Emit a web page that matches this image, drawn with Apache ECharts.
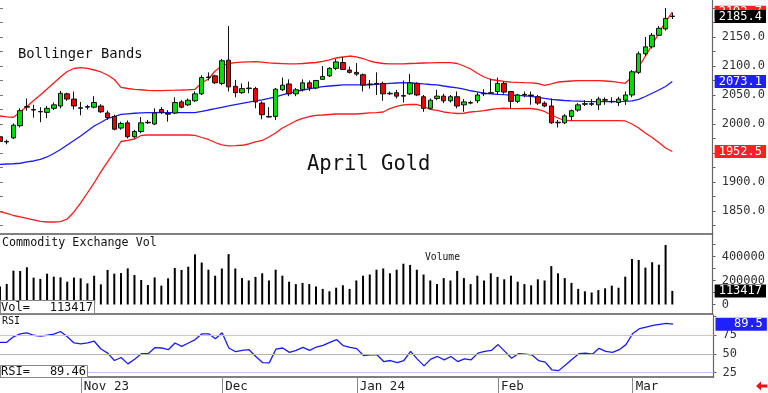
<!DOCTYPE html>
<html><head><meta charset="utf-8">
<script src="https://cdn.jsdelivr.net/npm/echarts@6/dist/echarts.min.js"></script>
<style>html,body{margin:0;padding:0;background:#fff}#c{width:768px;height:393px}</style>
</head><body><div id="c"></div>
<script>
const dates = [
'2023-10-16','2023-10-17','2023-10-18','2023-10-19','2023-10-20','2023-10-23','2023-10-24','2023-10-25','2023-10-26','2023-10-27','2023-10-30','2023-10-31',
'2023-11-01','2023-11-02','2023-11-03','2023-11-06','2023-11-07','2023-11-08','2023-11-09','2023-11-10','2023-11-13','2023-11-14','2023-11-15','2023-11-16','2023-11-17','2023-11-20','2023-11-21','2023-11-22','2023-11-24','2023-11-27','2023-11-28','2023-11-29','2023-11-30',
'2023-12-01','2023-12-04','2023-12-05','2023-12-06','2023-12-07','2023-12-08','2023-12-11','2023-12-12','2023-12-13','2023-12-14','2023-12-15','2023-12-18','2023-12-19','2023-12-20','2023-12-21','2023-12-22','2023-12-26','2023-12-27','2023-12-28','2023-12-29',
'2024-01-02','2024-01-03','2024-01-04','2024-01-05','2024-01-08','2024-01-09','2024-01-10','2024-01-11','2024-01-12','2024-01-16','2024-01-17','2024-01-18','2024-01-19','2024-01-22','2024-01-23','2024-01-24','2024-01-25','2024-01-26','2024-01-29','2024-01-30','2024-01-31',
'2024-02-01','2024-02-02','2024-02-05','2024-02-06','2024-02-07','2024-02-08','2024-02-09','2024-02-12','2024-02-13','2024-02-14','2024-02-15','2024-02-16','2024-02-20','2024-02-21','2024-02-22','2024-02-23','2024-02-26','2024-02-27','2024-02-28','2024-02-29',
'2024-03-01','2024-03-04','2024-03-05','2024-03-06','2024-03-07','2024-03-08','2024-03-11'];
const emptySlots = ['e1','e2','e3','e4','e5','e6'];

const opens = [1978,1969,1976,1997,2030,2025,2021.5,2020,2027,2031,2052,2043,
2027,2029,2029,2031,2019,2013,1993,2002,1978,1987,2003,2000,2025,2018,2019,2038,2033,2040,2052,2080,2083,
2070,2110,2065,2054,2061,2061,2036,2013,2013,2059,2069,2052,2059,2071,2062,2077,2083,2096,2106,2093,
2089,2085,2068,2069,2070,2052,2054,2049,2052,2070,2047,2027,2044,2048,2040,2047,2033,2037,2040,2052,2053,
2056,2070,2056,2039,2051,2050,2047,2036,2031,2003,2002,2013,2024,2034,2035,2033,2042,2039,2037,2041,
2050,2089,2121,2133,2153,2164,2186];
const closes = [1970,1970,1998,2023,2029,2024,2021,2027,2033,2053,2043,2031,
2028,2030,2037,2021,2011,1991,2001,1978,1987,2002,2002,2019,2020,2017,2037,2029,2041,2052,2080,2081,2071,
2109,2064,2054,2061,2062,2038,2016,2012,2060,2067,2052,2059,2071,2062,2075,2082,2096,2107,2094,2089,
2086,2067,2069,2070,2052,2053,2048,2048,2071,2050,2027,2041,2048,2040,2047,2031,2038,2036,2050,2053,2054,
2070,2055,2039,2050,2050,2049,2036,2031,2002,2002,2014,2023,2033,2035,2034,2043,2041,2038.5,2043,2050,
2090,2121,2133,2153,2165,2182,2185.4];
const highs = [1981,1973,2001,2027,2044,2033,2029,2031,2037,2057,2054,2056,
2038,2033,2048,2034,2023,2016,2004,2006,1990,2012,2007,2027,2029,2024,2046,2041,2044,2056,2084,2089,2085,
2112,2169,2076,2070,2073,2064,2039,2029,2062,2080,2077,2062,2077,2075,2076,2100,2098,2112,2115,2099,
2105,2087,2076,2089,2073,2056,2059,2075,2086,2072,2050,2044,2059,2052,2050,2056,2043,2040,2054,2060,2078,
2080,2073,2057,2052,2056,2056,2050,2039,2044,2007,2017,2025,2036,2041,2043,2047,2046,2046,2047,2056,
2093,2125,2150,2157,2169,2200,2192];
const lows = [1967,1965,1974,1994,2023,2011,2003,2010,2024,2027,2040,2025,
2015,2025,2027,2019,2007,1989,1990,1975,1975,1984,2000,1998,2017,2004,2017,2027,2031,2038,2050,2075,2069,
2067,2056,2046,2052,2053,2027,2008,2011,2007,2057,2048,2048,2056,2057,2060,2076,2081,2093,2093,2087,
2083,2056,2061,2050,2040,2050,2044,2037,2050,2048,2021,2025,2041,2036,2037,2027,2021,2034,2036,2048,2052,
2050,2052,2027,2036,2046,2033,2033,2029,2000,1994,2000,2006,2021,2031,2031,2024,2033,2036,2031,2033,
2046,2086,2117,2130,2152,2161,2181];

const volumes = [150000,171000,282000,279000,310000,224000,213000,257000,232000,226000,190000,224000,
218000,176000,240000,168000,288000,257000,262000,301000,246000,204000,162000,226000,157000,218000,304000,288000,315000,418000,350000,290000,240000,
300000,420000,300000,220000,200000,230000,260000,200000,290000,240000,190000,170000,180000,170000,150000,130000,110000,140000,160000,130000,
200000,240000,250000,290000,300000,260000,290000,340000,330000,290000,250000,200000,170000,220000,200000,280000,220000,170000,240000,200000,260000,
230000,210000,240000,190000,170000,160000,210000,200000,320000,260000,220000,180000,130000,110000,100000,120000,135000,157000,140000,232000,
379000,371000,307000,352000,332000,496000,113417];

const rsi = [65.3,65.3,72.6,76.6,78,74.7,73.4,74.7,76.1,79.7,72.6,64.4,
63.1,64.4,66.7,56.3,50.9,41,45,36.5,42.8,50,50,58.1,57.7,55.4,64.4,59.9,64.4,68.9,76.6,76.6,69.9,
78,57.7,52.7,54.5,55.4,46.4,38.3,37.8,56.3,57.7,51.8,54.5,58.5,54.5,59,61.2,65.3,68.9,60.8,58.5,
56.8,47.7,48.6,48.6,39.6,41,38.3,41,53.2,42.8,33.8,42.8,46.4,41.9,46.4,39.6,43.2,41.9,50.9,53.2,54.5,
62.2,53.2,44.1,50,49.5,48.6,41,38.8,28.4,27.5,35.1,42.8,50,50.9,49.5,57.2,53.2,51.8,55.4,62.2,
77,83.4,85.6,87.8,89.2,90.5,89.46];

const bbUpper = [2013.8,2012.1,2011.6,2020.7,2030.2,2040.5,2050.0,2060.3,2070.7,2081.0,2090.5,2095.7,
2097.1,2096.0,2093.1,2089.7,2084.5,2076.7,2063.0,2061.2,2059.8,2059.0,2058.1,2057.4,2057.6,2058.1,2058.3,2058.6,2059.0,2059.8,2070.7,2077.6,2091.4,
2100.0,2104.3,2105.7,2106.6,2107.2,2107.4,2106.6,2105.5,2104.7,2104.1,2103.5,2103.5,2104.3,2105.2,2106.0,2107.8,2110.7,2113.8,2115.5,2117.2,
2115.9,2112.9,2108.6,2106.0,2104.3,2103.5,2103.5,2103.8,2104.3,2104.7,2105.2,2105.5,2105.7,2105.7,2105.7,2104.3,2100.0,2094.8,2087.4,2081.0,2076.7,
2075.0,2073.3,2072.1,2071.6,2071.2,2071.0,2069.8,2066.4,2069.0,2072.4,2073.3,2074.1,2074.7,2074.7,2074.7,2074.7,2074.1,2073.3,2071.6,2070.2,
2081.0,2098.3,2117.2,2136.2,2156.9,2176.0,2192.7];
const bbMiddle = [1930.5,1931.0,1931.4,1932.3,1934.5,1936.2,1939.1,1943.1,1949.1,1956.0,1963.8,1971.6,
1979.3,1987.9,1996.6,2002.6,2009.5,2012.9,2016.4,2017.6,2018.5,2019.0,2019.5,2019.7,2019.8,2019.7,2019.5,2019.5,2019.5,2019.7,2021.6,2024.1,2026.4,
2028.8,2031.1,2033.5,2035.7,2037.6,2039.7,2041.4,2044.0,2046.9,2050.0,2053.1,2056.0,2058.6,2060.7,2062.6,2064.3,2065.5,2066.4,2067.3,2067.3,
2067.3,2067.3,2067.3,2068.5,2069.3,2070.2,2070.7,2071.2,2070.7,2070.2,2069.0,2068.1,2067.3,2065.5,2063.8,2062.4,2060.0,2057.3,2055.2,2053.0,2052.1,
2051.2,2050.5,2050.0,2049.3,2048.6,2047.8,2046.0,2044.0,2042.3,2041.4,2040.5,2039.8,2039.5,2039.0,2038.6,2038.5,2038.5,2038.5,2038.6,2039.0,
2039.7,2042.3,2047.4,2053.0,2058.6,2064.7,2073.1];
const bbLower = [1848.8,1845.7,1842.2,1839.7,1837.1,1834.5,1831.9,1831.0,1831.0,1831.6,1836.2,1848.3,
1863.8,1881.0,1898.3,1917.3,1934.5,1951.7,1969.8,1971.6,1974.1,1980.2,1981.0,1981.0,1981.0,1981.0,1981.0,1981.0,1981.0,1980.2,1976.7,1973.3,1968.1,
1963.8,1962.1,1962.6,1963.3,1965.5,1969.0,1971.6,1977.6,1984.5,1993.1,1999.1,2005.2,2009.5,2012.9,2014.7,2015.5,2016.4,2017.2,2017.2,2017.2,
2017.2,2018.1,2019.0,2019.5,2020.7,2026.7,2030.2,2032.8,2033.6,2033.6,2030.2,2025.3,2023.3,2020.7,2019.0,2018.1,2018.5,2020.7,2021.6,2023.0,2025.0,
2026.4,2027.1,2026.4,2026.4,2026.7,2026.7,2025.0,2021.6,2015.5,2010.3,2006.0,2005.7,2005.7,2005.7,2005.7,2005.7,2005.7,2005.7,2005.7,2005.2,
2000.0,1993.1,1984.5,1976.7,1968.1,1958.6,1952.5];

const monthStarts = ['2023-11-01','2023-12-01','2024-01-02','2024-02-01','2024-03-01'];
const monthLabels = ['Nov 23','Dec','Jan 24','Feb','Mar'];
const priceLabels = [1850,1900,2000,2050,2100,2150];
const volumeLabels = [0,200000,400000];
const rsiLabels = [25,50,75];

const FONT = '"DejaVu Sans Mono", monospace';
const cats = dates.concat(emptySlots);
const last = dates.length - 1;
const candleData = dates.map((d,i)=>[opens[i],closes[i],lows[i],highs[i]]);
const priceMinor = []; for (let v=1825; v<=2200; v+=25) priceMinor.push(v);

function tag(value, bg, text, color){
  return {yAxis: value, lineStyle:{color:'rgba(0,0,0,0)', width:0.01, opacity:1},
    label:{show:true, position:'end', distance:2, formatter: text, color: color||'#fff', opacity:1,
      backgroundColor: bg, fontFamily: FONT, fontSize: 12, padding:[1,4,0,4], lineHeight:12}};
}
const isMonth = (idx, val) => monthStarts.indexOf(val) >= 0;

const chart = echarts.init(document.getElementById('c'), null, {renderer:'canvas'});
const xBase = (g) => ({
  type:'category', gridIndex:g, data:cats, boundaryGap:false,
  axisLine:{show:true, onZero:false, lineStyle:{color:'#555', width:1.5}},
  axisTick:{show:false}, axisLabel:{show:false}, splitLine:{show:false}
});
const x2 = xBase(2);
x2.axisTick = {show:true, interval:isMonth, length:16, lineStyle:{color:'#888', width:1}};
x2.axisLabel = {show:true, interval:isMonth, formatter:(v)=>monthLabels[monthStarts.indexOf(v)],
  align:'left', padding:[0,0,0,3], margin:3, fontFamily:FONT, fontSize:12.5, color:'#222'};

const yRight = (g, min, max, labels, ticks, fmt) => ({
  type:'value', gridIndex:g, position:'right', min, max, scale:true,
  axisLine:{show:true, lineStyle:{color:'#666', width:1.2}},
  axisTick:{show:true, customValues:ticks, length:3, lineStyle:{color:'#666'}},
  axisLabel:{show:true, customValues:labels, formatter:fmt, margin:9, fontFamily:FONT, fontSize:12, color:'#333'},
  splitLine:{show:false}
});
const volMinor = [0,100000,200000,300000,400000,500000];

const option = {
  animation:false, backgroundColor:'#fff',
  grid:[
    {left:0, top:0, width:713.5, height:234},
    {left:0, top:235, width:713.5, height:79},
    {left:0, top:315, width:713.5, height:62}
  ],
  xAxis:[xBase(0), xBase(1), x2],
  yAxis:[
    yRight(0, 1810.3, 2213.8, priceLabels, priceMinor, v=>v.toFixed(1)),
    yRight(1, -79167, 579167, volumeLabels, volMinor, v=>String(v)),
    yRight(2, 19, 101.7, rsiLabels, [25,50,75,100], v=>String(v)),
    {type:'value', gridIndex:0, position:'left', min:1810.3, max:2213.8,
     axisLine:{show:false}, axisLabel:{show:false}, splitLine:{show:false},
     axisTick:{show:true, inside:true, customValues:priceMinor, length:3, lineStyle:{color:'#777'}}}
  ],
  series:[
    {type:'line', name:'Upper', xAxisIndex:0, yAxisIndex:0, data:bbUpper, symbol:'none', z:2, clip:false,
     lineStyle:{color:'#ff1a1a', width:1.3}, markLine:{symbol:'none', silent:true, z:5, data:[tag(bbUpper[last], '#ff2020', p=>p.value.toFixed(1))]}},
    {type:'line', name:'Lower', xAxisIndex:0, yAxisIndex:0, data:bbLower, symbol:'none', z:2, clip:false,
     lineStyle:{color:'#ff1a1a', width:1.3}, markLine:{symbol:'none', silent:true, z:5, data:[tag(bbLower[last], '#ff2020', p=>p.value.toFixed(1))]}},
    {type:'line', name:'Middle', xAxisIndex:0, yAxisIndex:0, data:bbMiddle, symbol:'none', z:2, clip:false,
     lineStyle:{color:'#1a1aff', width:1.3}, markLine:{symbol:'none', silent:true, z:5, data:[tag(bbMiddle[last], '#2020ff', p=>p.value.toFixed(1))]}},
    {type:'candlestick', name:'April Gold', xAxisIndex:0, yAxisIndex:0, data:candleData, barWidth:5, z:3, clip:false,
     itemStyle:{color:'#00dd00', color0:'#ee0000', borderColor:'#111', borderColor0:'#111', borderWidth:1},
     markLine:{symbol:'none', silent:true, z:7, data:[tag(closes[last], '#000', p=>p.value.toFixed(1))]}},
    {type:'bar', name:'Volume', xAxisIndex:1, yAxisIndex:1, data:volumes, barWidth:2, clip:false, itemStyle:{color:'#000'},
     markLine:{symbol:'none', silent:true, data:[tag(volumes[last], '#000', p=>String(p.value).padStart(6,' '))]}},
    {type:'line', name:'RSI', xAxisIndex:2, yAxisIndex:2, data:rsi, symbol:'none', clip:false,
     lineStyle:{color:'#1a1aff', width:1.3},
     markLine:{symbol:'none', silent:true, label:{show:false}, data:[
       {yAxis:75, lineStyle:{color:'#f2b4b4', width:1, type:'solid'}, label:{show:false}},
       {yAxis:50, lineStyle:{color:'#b4b4b4', width:1, type:'solid'}, label:{show:false}},
       {yAxis:25, lineStyle:{color:'#c4c4f4', width:1, type:'solid'}, label:{show:false}},
       tag(Math.round(rsi[last]*10)/10, '#2020ff', p=>p.value.toFixed(1).padStart(6,' '))
     ]}}
  ],
  graphic:[
    {type:'text', x:18, y:54.5, style:{text:'Bollinger Bands', font:'13.8px '+FONT, fill:'#111', verticalAlign:'middle'}},
    {type:'text', x:307, y:165, style:{text:'April Gold', font:'20.5px '+FONT, fill:'#111', verticalAlign:'middle'}},
    {type:'text', x:2, y:242.5, style:{text:'Commodity Exchange Vol', font:'11.7px '+FONT, fill:'#111', verticalAlign:'middle'}},
    {type:'text', x:425, y:257.5, style:{text:'Volume', font:'9.7px '+FONT, fill:'#111', verticalAlign:'middle'}},
    {type:'text', x:2, y:321.5, style:{text:'RSI', font:'10px '+FONT, fill:'#111', verticalAlign:'middle'}},
    {type:'rect', shape:{x:0.5, y:300.5, width:94, height:13}, style:{fill:'#fff', stroke:'#888', lineWidth:1}, z:20},
    {type:'text', x:1, y:307.5, z:21, style:{text:'Vol=', font:'12px '+FONT, fill:'#111', verticalAlign:'middle'}},
    {type:'text', x:93, y:307.5, z:21, style:{text:String(volumes[last]), font:'12px '+FONT, fill:'#111', verticalAlign:'middle', align:'right'}},
    {type:'rect', shape:{x:0.5, y:365.5, width:87, height:12}, style:{fill:'#fff', stroke:'#888', lineWidth:1}, z:20},
    {type:'text', x:1, y:372, z:21, style:{text:'RSI=', font:'12px '+FONT, fill:'#111', verticalAlign:'middle'}},
    {type:'text', x:86, y:372, z:21, style:{text:rsi[last].toFixed(2), font:'12px '+FONT, fill:'#111', verticalAlign:'middle', align:'right'}},
    {type:'polygon', shape:{points:[[756,386],[761,381.5],[761,384.5],[767,384.5],[767,387.5],[761,387.5],[761,390.5]]}, style:{fill:'#ee1111'}}
  ]
};
chart.setOption(option);
</script></body></html>
